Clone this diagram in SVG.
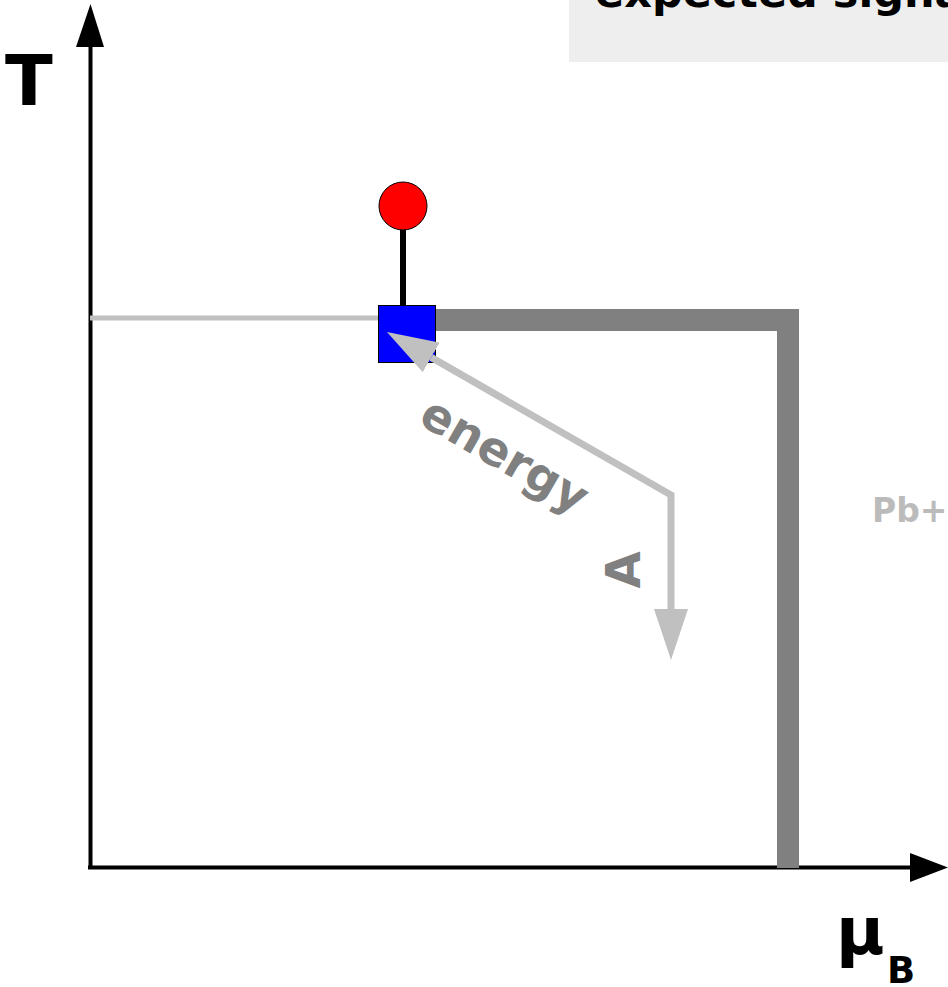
<svg xmlns="http://www.w3.org/2000/svg" width="948" height="987" viewBox="0 0 948 987">
<defs>
<style>
.b{font-family:"DejaVu Sans",sans-serif;font-weight:bold}
</style>
<marker id="ah" markerUnits="userSpaceOnUse" markerWidth="52" markerHeight="34" refX="0" refY="17" orient="auto-start-reverse" viewBox="0 0 52 34"><path d="M0,0 L51,17 L0,34 Z" fill="#c0c0c0"/></marker>
</defs>
<rect width="948" height="987" fill="#fff"/>
<g id="title"><rect x="569" y="0" width="379" height="62" fill="#eeeeee"/><text class="b" x="595" y="7" font-size="43" fill="#000">expected signal</text></g>
<g id="pb"><text class="b" x="872" y="522" font-size="33" fill="#bbbbbb">Pb+</text></g>
<g id="axes">
<line x1="90.5" y1="869" x2="90.5" y2="40" stroke="#000" stroke-width="4"/>
<path d="M90.5,4 L104,47 L76,47 Z" fill="#000"/>
<line x1="88" y1="867.5" x2="915" y2="867.5" stroke="#000" stroke-width="4"/>
<path d="M948,867.5 L910,882 L910,853 Z" fill="#000"/>
</g>
<g id="connectors">
<line x1="90" y1="318" x2="380" y2="318" stroke="#c0c0c0" stroke-width="5"/>
<path d="M434,320 H788 V868" fill="none" stroke="#808080" stroke-width="22"/>
<line x1="403" y1="228" x2="403" y2="306" stroke="#000" stroke-width="6"/>
</g>
<g id="square"><rect x="378.5" y="305.5" width="57" height="57" fill="#0000ff" stroke="#000" stroke-width="1"/></g>
<g id="circle"><circle cx="403" cy="206" r="24" fill="#ff0000" stroke="#000" stroke-width="1"/></g>
<g id="arrow"><path d="M431.2,357.4 L671,495 L671,609" fill="none" stroke="#c0c0c0" stroke-width="7" marker-start="url(#ah)" marker-end="url(#ah)"/></g>
<g id="labels">
<text class="b" x="5" y="105" font-size="70" fill="#000">T</text>
<text class="b" x="836" y="954" font-size="66" fill="#000">μ</text>
<text class="b" x="887" y="983" font-size="37" fill="#000">B</text>
<text class="b" font-size="47" fill="#808080" transform="translate(503,458) rotate(30)" text-anchor="middle" dominant-baseline="middle">energy</text>
<text class="b" font-size="48" fill="#808080" transform="translate(623,570) rotate(-90)" text-anchor="middle" dominant-baseline="central">A</text>
</g>
</svg>
